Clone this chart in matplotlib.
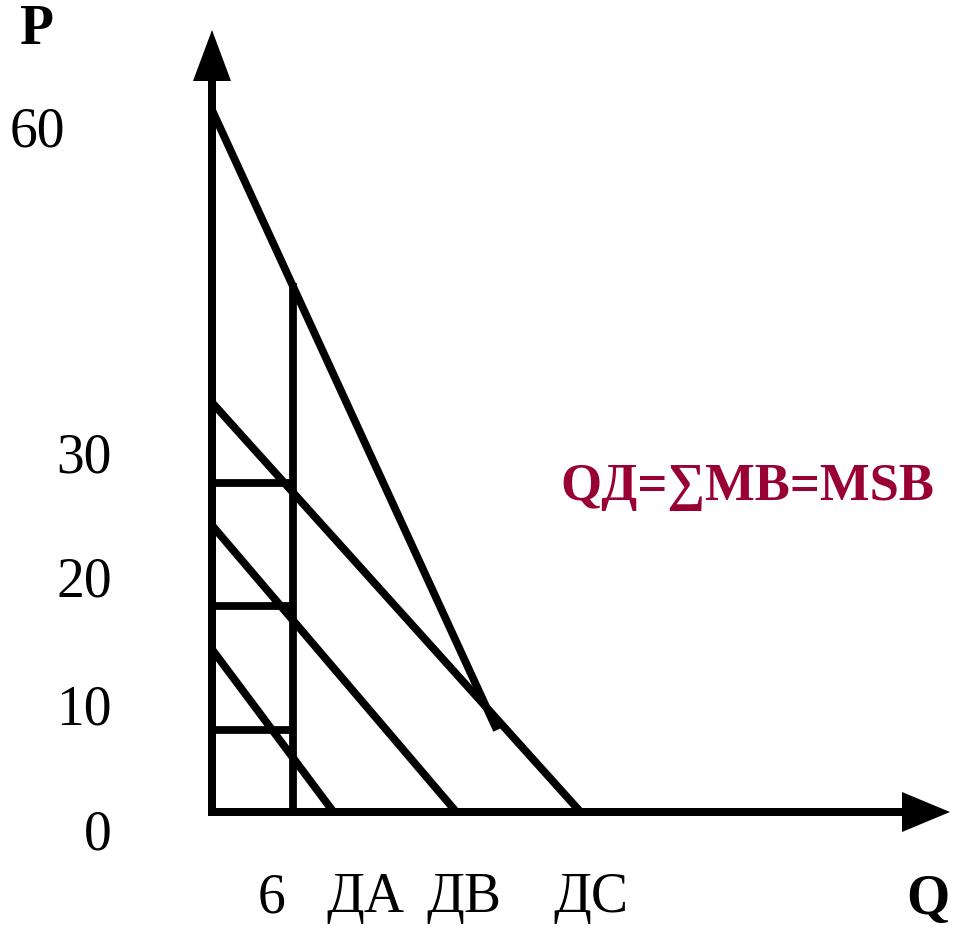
import matplotlib
matplotlib.use('Agg')
import matplotlib.pyplot as plt

plt.rcParams['font.family'] = ['Liberation Serif', 'DejaVu Serif']

# demand lines: (P intercept, Q intercept)
demand_names = ['ДА', 'ДВ', 'ДС']
demand_p0 = [13.9, 24.5, 35.0]
demand_q0 = [9.0, 18.1, 27.3]

# summed demand (vertical sum) segment
sum_q = [0.0, 21.1]
sum_p = [60.0, 7.0]

# quantity 6 vertical line, price levels at Q=6
q_six = 6.0
q_six_top = 45.2
price_levels = [28.1, 17.6, 7.0]

y_tick_values = [60, 30, 20, 10, 0]
y_tick_labels = ['60', '30', '20', '10', '0']

formula = 'QД=∑MB=MSB'
formula_color = '#990033'

# pixel -> data mapping (origin at px 212, 812)
PX_Q = 13.5
PX_P = 11.7
OX, OY = 212, 812
W, H = 955, 930


def qx(px):
    return (px - OX) / PX_Q


def py(px):
    return (OY - px) / PX_P


fig = plt.figure(figsize=(W / 100, H / 100), dpi=100)
ax = fig.add_axes([0, 0, 1, 1])
ax.set_xlim(qx(0), qx(W))
ax.set_ylim(py(H), py(0))
ax.axis('off')

LW = 5.6
black = 'black'

# axes with arrow heads
ax.arrow(0, py(815), 0, py(30) - py(815), width=8 / PX_Q, head_width=38 / PX_Q,
         head_length=51 / PX_P, length_includes_head=True, color=black, lw=0)
ax.arrow(qx(208), 0, qx(950) - qx(208), 0, width=8 / PX_P, head_width=40 / PX_P,
         head_length=48 / PX_Q, length_includes_head=True, color=black, lw=0)

# individual demand lines
for p0, q0 in zip(demand_p0, demand_q0):
    ax.plot([0, q0], [p0, 0], color=black, lw=LW, solid_capstyle='butt')

# summed demand
ax.plot(sum_q, sum_p, color=black, lw=LW, solid_capstyle='butt')

# vertical at Q = 6
ax.plot([q_six, q_six], [0, q_six_top], color=black, lw=LW, solid_capstyle='butt')

# price levels at Q = 6
for p in price_levels:
    ax.plot([0, q_six], [p, p], color=black, lw=LW, solid_capstyle='butt')

# y tick labels
fs = 40
y_label_px = [(65, 132), (112, 458), (112, 582), (112, 710), (112, 835)]
for lab, (x, y) in zip(y_tick_labels, y_label_px):
    ax.text(qx(x), py(y), lab, fontsize=fs, ha='right', va='center')

# x labels
ax.text(qx(272), py(898), '6', fontsize=fs, ha='center', va='center')
x_label_px = [365, 464, 591]
for name, x in zip(demand_names, x_label_px):
    ax.text(qx(x), py(898), name, fontsize=fs, ha='center', va='center')

ax.text(qx(928), py(900), 'Q', fontsize=fs, fontweight='bold',
        ha='center', va='center')
ax.text(qx(37), py(30), 'P', fontsize=fs, fontweight='bold',
        ha='center', va='center')

ax.text(qx(747), py(487), formula, fontsize=38, fontweight='bold',
        color=formula_color, ha='center', va='center')

fig.savefig('out.png', dpi=100)
